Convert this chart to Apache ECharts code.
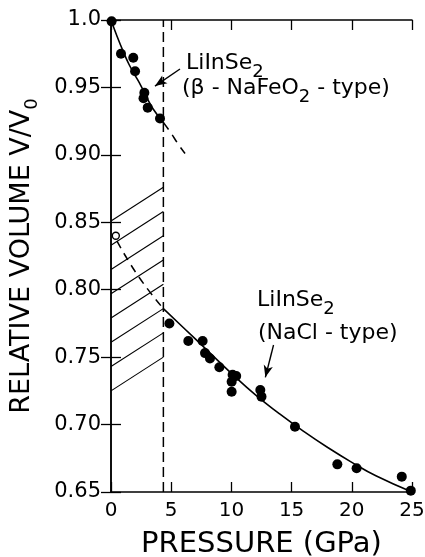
<!DOCTYPE html>
<html><head><meta charset="utf-8">
<script src="https://cdn.jsdelivr.net/npm/echarts@6/dist/echarts.min.js"></script>
<style>html,body{margin:0;padding:0;background:#fff}#c{width:425px;height:557px}</style>
</head><body><div id="c"></div>
<script>
// ---- data ----
const xTickLabels = ['0','5','10','15','20','25'];
const yTickLabels = ['0.65','0.70','0.75','0.80','0.85','0.90','0.95','1.0'];
// beta-NaFeO2-type measured points
const betaP = [0.05,0.83,1.85,2.0,2.7,2.77,3.05,4.07];
const betaV = [0.999,0.975,0.972,0.962,0.942,0.946,0.935,0.927];
// NaCl-type measured points
const naclP = [4.85,6.42,7.61,7.81,8.22,9.0,10.02,10.02,10.1,10.4,12.4,12.5,15.28,18.8,20.4,24.15,24.9];
const naclV = [0.775,0.762,0.762,0.753,0.749,0.7425,0.7244,0.7318,0.737,0.736,0.7256,0.7207,0.6984,0.6705,0.6676,0.6614,0.651];
// open circle (extrapolated V0 of NaCl phase)
const openP = [0.4];
const openV = [0.840];
// fitted curves
const betaFitP = [0,0.5,1,1.5,2,2.5,3,3.5,4.35];
const betaFitV = [1.0,0.988,0.977,0.967,0.959,0.951,0.942,0.934,0.924];
const betaExtP = [4.35,5,5.5,6.15];
const betaExtV = [0.924,0.916,0.909,0.901];
const naclFitP = [4.35,6,8,10,12,14,16,18,20,22,25];
const naclFitV = [0.786,0.772,0.755,0.738,0.722,0.708,0.695,0.683,0.672,0.662,0.650];
const naclExtP = [0.5,2.27,4.35];
const naclExtV = [0.836,0.810,0.786];
// transition pressure
const transitionP = 4.35;
// hatching (left end at P=0, right end at transition pressure)
const hatchLeftY  = [0.725,0.743,0.761,0.779,0.797,0.815,0.833,0.851];
const hatchRightY = [0.750,0.768,0.786,0.804,0.822,0.840,0.858,0.876];
// annotations
const annoText = ['LiInSe{s|2}', '(β - NaFeO{s|2} - type)', 'LiInSe{s|2}', '(NaCl - type)'];
const annoP = [6.23, 5.9, 12.13, 12.2];
const annoV = [0.968, 0.949, 0.792, 0.768];
const arrowFrom = [[5.73,0.9637],[13.5,0.759]];
const arrowTo   = [[3.65,0.951],[12.82,0.735]];

// ---- chart ----
const FONT = 'DejaVu Sans';
const BLACK = '#000';
const zip = (a,b) => a.map((v,i)=>[v,b[i]]);
const chart = echarts.init(document.getElementById('c'), null, {renderer:'canvas'});

const axisCommon = {
  type:'value',
  axisLine:{show:true, lineStyle:{color:BLACK, width:1.5}},
  axisTick:{show:true, inside:true, length:10, lineStyle:{color:BLACK, width:1.3}},
  splitLine:{show:false}
};

const series = [];
hatchLeftY.forEach((y,i)=>{
  series.push({type:'line', data:[[0,y],[transitionP,hatchRightY[i]]], symbol:'none', silent:true,
    lineStyle:{color:BLACK, width:1.1}, z:1});
});
series.push({type:'line', data:[[transitionP,0.65],[transitionP,1.0]], symbol:'none', silent:true,
  lineStyle:{color:BLACK, width:1.5, type:[10,5]}, z:2});
series.push({type:'line', data:zip(betaFitP,betaFitV), smooth:true, symbol:'none', lineStyle:{color:BLACK,width:1.6}, z:3});
series.push({type:'line', data:zip(betaExtP,betaExtV), smooth:true, symbol:'none', lineStyle:{color:BLACK,width:1.5,type:[9,6]}, z:3});
series.push({type:'line', data:zip(naclFitP,naclFitV), smooth:true, symbol:'none', lineStyle:{color:BLACK,width:1.6}, z:3});
series.push({type:'line', data:zip(naclExtP,naclExtV), smooth:true, symbol:'none', lineStyle:{color:BLACK,width:1.5,type:[8,6]}, z:3});
series.push({type:'scatter', data:zip(betaP,betaV), symbol:'circle', symbolSize:10, itemStyle:{color:BLACK, opacity:1}, z:4});
series.push({type:'scatter', data:zip(naclP,naclV), symbol:'circle', symbolSize:10, itemStyle:{color:BLACK, opacity:1}, z:4});
series.push({type:'scatter', data:zip(openP,openV), symbol:'circle', symbolSize:7, itemStyle:{color:'#fff', opacity:1, borderColor:BLACK, borderWidth:1.4}, z:4});
series.push({type:'scatter', symbolSize:0, itemStyle:{color:'transparent', opacity:1}, silent:true, z:5,
  data: annoP.map((p,i)=>({value:[p,annoV[i]], label:{formatter:annoText[i]}})),
  label:{show:true, opacity:1, position:[0,0], align:'left', verticalAlign:'middle', color:BLACK, fontFamily:FONT, fontSize:22,
    rich:{s:{fontSize:18, fontFamily:FONT, color:BLACK, padding:[18,0,0,0]}}},
  markLine:{silent:true, symbol:['none','arrow'], symbolSize:[7,12], label:{show:false},
    lineStyle:{color:BLACK, type:'solid', width:1.4, opacity:1},
    data: arrowFrom.map((f,i)=>[{coord:f},{coord:arrowTo[i]}])}
});

chart.setOption({
  animation:false,
  backgroundColor:'#fff',
  textStyle:{fontFamily:FONT, color:BLACK},
  grid:{left:111, right:13, top:20, bottom:65, containLabel:false, outerBoundsMode:'none'},
  xAxis:[
    Object.assign({}, axisCommon, {min:0, max:25, interval:5, position:'bottom',
      axisLabel:{color:BLACK, fontSize:20, margin:9, fontFamily:FONT, formatter:(v)=>xTickLabels[Math.round(v/5)]},
      name:'PRESSURE (GPa)', nameLocation:'middle', nameGap:38,
      nameTextStyle:{fontSize:29, color:BLACK, fontFamily:FONT}}),
    Object.assign({}, axisCommon, {min:0, max:25, interval:5, position:'top', axisLabel:{show:false}})
  ],
  yAxis:[
    Object.assign({}, axisCommon, {min:0.65, max:1.0, interval:0.05, position:'left',
      axisLabel:{color:BLACK, fontSize:21, margin:10, fontFamily:FONT, formatter:(v)=>yTickLabels[Math.round((v-0.65)/0.05)]},
      name:'RELATIVE VOLUME V/V{s|0}', nameLocation:'middle', nameGap:70, nameRotate:90,
      nameTextStyle:{fontSize:27, color:BLACK, fontFamily:FONT,
        rich:{s:{fontSize:18, fontFamily:FONT, color:BLACK, padding:[20,0,0,0]}}}}),
    Object.assign({}, axisCommon, {min:0.65, max:1.0, interval:0.05, position:'right', axisLabel:{show:false}})
  ],
  series: series
});
</script>
</body></html>
